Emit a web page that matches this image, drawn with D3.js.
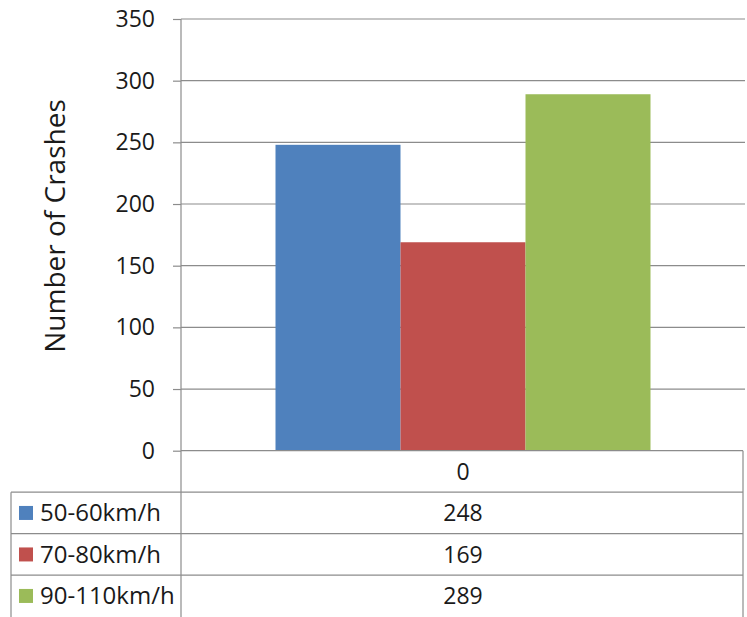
<!DOCTYPE html>
<html>
<head>
<meta charset="utf-8">
<script src="https://cdn.jsdelivr.net/npm/d3@7/dist/d3.min.js"></script>
<style>
  html, body { margin: 0; padding: 0; background: #fff; }
  svg { display: block; }
  text { font-family: "Open Sans", "Noto Sans", sans-serif; fill: #1a1a1a; }
</style>
</head>
<body>
<svg id="chart" width="747" height="617"></svg>
<script>
const categories = ["0"];
const seriesNames = ["50-60km/h", "70-80km/h", "90-110km/h"];
const seriesValues = [248, 169, 289];
const seriesColors = ["#4F81BD", "#C0504D", "#9BBB59"];
const yTicks = [0, 50, 100, 150, 200, 250, 300, 350];
const yLabel = "Number of Crashes";

const svg = d3.select("#chart");
const W = 747, H = 617;
const plotLeft = 181, plotRight = 745, plotTop = 19, plotBottom = 450.7;
const tableLeft = 11, tableRight = 743;
const rowH = 41.5;
const gridColor = "#8c8c8c";
const fs = 23;

const y = d3.scaleLinear().domain([0, 350]).range([plotBottom, plotTop]);
const x0 = d3.scaleBand().domain(categories).range([plotLeft, plotRight])
  .paddingInner(0).paddingOuter(0.252);
const x1 = d3.scaleBand().domain(seriesNames).range([0, x0.bandwidth()]).padding(0);

// gridlines
svg.append("g").selectAll("line").data(yTicks.filter(t => t > 0)).join("line")
  .attr("x1", plotLeft).attr("x2", plotRight)
  .attr("y1", d => y(d)).attr("y2", d => y(d))
  .attr("stroke", gridColor).attr("stroke-width", 1.2);

// y axis
const yAxis = d3.axisLeft(y).tickValues(yTicks).tickSize(8).tickPadding(18);
const gy = svg.append("g").attr("transform", `translate(${plotLeft},0)`).call(yAxis);
gy.select(".domain").remove();
gy.selectAll(".tick line").attr("stroke", gridColor).attr("stroke-width", 1.2);
gy.selectAll(".tick text").attr("font-size", fs).attr("fill", "#1a1a1a")
  .style("font-family", '"Open Sans", sans-serif');

// bars
const data = seriesNames.map((s, i) => ({ cat: categories[0], name: s, value: seriesValues[i], color: seriesColors[i] }));
svg.append("g").selectAll("rect").data(data).join("rect")
  .attr("x", d => x0(d.cat) + x1(d.name))
  .attr("y", d => y(d.value))
  .attr("width", x1.bandwidth())
  .attr("height", d => y(0) - y(d.value))
  .attr("fill", d => d.color);

// data table
const tbl = svg.append("g");
const line = (x1_, y1_, x2_, y2_) => tbl.append("line")
  .attr("x1", x1_).attr("y1", y1_).attr("x2", x2_).attr("y2", y2_)
  .attr("stroke", gridColor).attr("stroke-width", 1.2);

line(plotLeft, plotTop, plotLeft, H);
line(plotLeft, plotBottom, tableRight, plotBottom);
line(tableRight, plotBottom, tableRight, H);
const rowTops = seriesNames.map((s, i) => plotBottom + rowH * (i + 1));
rowTops.forEach(t => line(tableLeft, t, tableRight, t));
line(tableLeft, rowTops[0], tableLeft, H);

// header category label
tbl.selectAll("text.cat").data(categories).join("text").attr("class", "cat")
  .attr("x", d => x0(d) + x0.bandwidth() / 2)
  .attr("y", plotBottom + rowH / 2)
  .attr("dy", "0.35em").attr("text-anchor", "middle").attr("font-size", fs)
  .text(d => d);

// rows
const rows = tbl.selectAll("g.row").data(data).join("g").attr("class", "row")
  .attr("transform", (d, i) => `translate(0,${rowTops[i] + rowH / 2})`);
rows.append("rect").attr("x", 19).attr("y", -7).attr("width", 14).attr("height", 14)
  .attr("fill", d => d.color);
rows.append("text").attr("x", 40).attr("dy", "0.35em").attr("font-size", 24)
  .text(d => d.name);
rows.append("text").attr("x", d => x0(d.cat) + x0.bandwidth() / 2).attr("dy", "0.35em")
  .attr("text-anchor", "middle").attr("font-size", fs)
  .text(d => d.value);

// y label
svg.append("text")
  .attr("transform", `translate(55,226) rotate(-90)`)
  .attr("text-anchor", "middle").attr("dy", "0.35em").attr("font-size", 28)
  .text(yLabel);
</script>
</body>
</html>
